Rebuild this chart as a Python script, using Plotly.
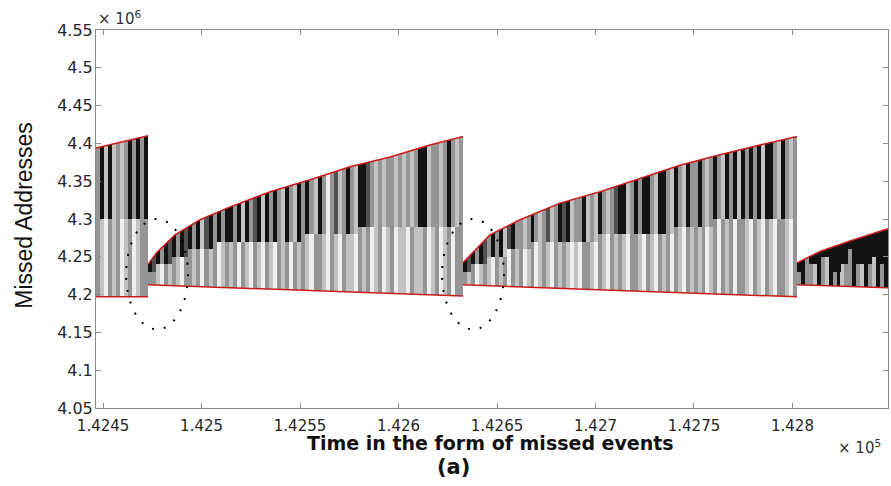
import numpy as np
import plotly.graph_objects as go

# ---- axis ticks (x in units of 1e5, y in units of 1e6) ----
x_ticks = [1.4245, 1.425, 1.4255, 1.426, 1.4265, 1.427, 1.4275, 1.428]
x_tick_labels = ["1.4245", "1.425", "1.4255", "1.426", "1.4265", "1.427", "1.4275", "1.428"]
y_ticks = [4.05, 4.1, 4.15, 4.2, 4.25, 4.3, 4.35, 4.4, 4.45, 4.5, 4.55]
y_tick_labels = ["4.05", "4.1", "4.15", "4.2", "4.25", "4.3", "4.35", "4.4", "4.45", "4.5", "4.55"]
x_range = [1.424464, 1.428485]
y_range = [4.05, 4.55]

# ---- the four address cycles: time span of each ----
seg_start = [1.424464, 1.424728, 1.426327, 1.428023]
seg_end = [1.424728, 1.426327, 1.428023, 1.428485]

# upper envelope (highest missed address) per cycle
upper_x = [
    [1.424464, 1.424728],
    [1.424728, 1.424774, 1.424865, 1.424992, 1.425145, 1.425348, 1.425551,
     1.425754, 1.425957, 1.426160, 1.426327],
    [1.426327, 1.426388, 1.426464, 1.426617, 1.426820, 1.427023, 1.427226,
     1.427429, 1.427632, 1.427835, 1.428023],
    [1.428023, 1.428140, 1.428292, 1.428485],
]
upper_y = [
    [4.394, 4.410],
    [4.240, 4.256, 4.279, 4.299, 4.316, 4.336, 4.352, 4.369, 4.382, 4.398, 4.409],
    [4.242, 4.259, 4.279, 4.299, 4.321, 4.336, 4.354, 4.371, 4.385, 4.398, 4.409],
    [4.242, 4.257, 4.271, 4.287],
]
# lower envelope (lowest missed address) per cycle
lower_x = [
    [1.424464, 1.424728],
    [1.424728, 1.426327],
    [1.426327, 1.428023],
    [1.428023, 1.428485],
]
lower_y = [
    [4.197, 4.197],
    [4.213, 4.198],
    [4.213, 4.197],
    [4.213, 4.209],
]

# stripe codes per cycle: upper shade, lower shade, split level digit
stripes = [
    "gg9 kl9 lw9 kg9 ll9 gg9 lw9 gl9 kg9 gw9 kl9 gg9 kg9",
    "kg2 dg2 kl3 gw3 kg3 dl3 kg4 gl4 kw4 dg4 kg5 gl5 kg5 lw5 dg5 kl5 gg5 kw6 gl6 kg6 "
    "kl6 gg6 kw6 lg6 kl6 gw6 dg6 kl6 lw6 kg6 gl6 kw6 gg6 ll6 kg6 gw6 lg6 kl6 "
    "gg7 kl7 gw7 lg7 kg7 gl7 ww7 gg7 dl7 lw7 gg7 kl7 gl7 lw7 kg8 kl8 dg8 gw8 ll8 gg8 lw8 gl8 "
    "gg8 lw8 gl8 ll8 gw8 lg8 gl8 kl8 kg8 lw8 gl8 gg8 lw8 gl8 kg8 gw8 lg8 gg8",
    "kg2 dl2 kg3 gw3 kl3 dg3 gl4 kw4 gg4 kl4 lg4 dw5 kg5 gl5 "
    "gg5 lw5 gl5 kg6 gw6 ll6 gg6 dl6 lw6 gg6 kl6 dg6 kl6 lw6 gl6 gw6 kg6 lg6 gl6 lw6 "
    "kg7 gl7 lw7 gg7 dl7 kg7 kl7 lw7 gg7 kg7 gl7 kw7 kg7 gl7 lw7 kg7 kl7 gg7 lw7 kg8 gl8 lw8 kg8 gl8 gg8 "
    "kl8 gg8 lw8 gl8 kg9 gw9 lg9 kl9 gg9 kw9 lg9 kg9 gl9 kw9 gg9 kl9 lw9 kg9 kl9 gw9 lg9 kg9 gl9 lw9 gg9",
    "kg2 kk2 gg3 kg3 kl3 kk3 kg4 kl4 kk4 kg2 kk2 kl3 kg3 kg5 kk3 kg3 kl3 kk3 kg3 kl4 kk4 kg3 kk3",
]
shade = {"k": "#121212", "d": "#505050", "g": "#959595", "l": "#c2c2c2", "w": "#efefef"}

# dotted ellipses highlighting the start of a new cycle
ellipse_x0 = [1.424617, 1.426221]
ellipse_x1 = [1.424931, 1.426535]
ellipse_y0 = [4.154, 4.154]
ellipse_y1 = [4.300, 4.300]

STRIPE_FLOOR = 4.18
STRIPE_CEIL = 4.46
MASK_OVERHANG = 6e-6  # masks reach a hair past each cycle's right edge

fig = go.Figure()

# build stripe bars
bx, bw, lo_h, hi_b, hi_h, lo_c, hi_c = [], [], [], [], [], [], []
for s, e, codes in zip(seg_start, seg_end, stripes):
    toks = codes.split()
    n = len(toks)
    w = (e - s) / n
    centers = s + w * (np.arange(n) + 0.5)
    for c, t in zip(centers, toks):
        split = 4.21 + int(t[2]) * 0.01
        bx.append(c)
        bw.append(w * 1.02)
        lo_h.append(split - STRIPE_FLOOR)
        hi_b.append(split)
        hi_h.append(STRIPE_CEIL - split)
        hi_c.append(shade[t[0]])
        lo_c.append(shade[t[1]])

fig.add_trace(go.Bar(x=bx, y=lo_h, base=[STRIPE_FLOOR] * len(bx), width=bw,
                     marker=dict(color=lo_c, line=dict(width=0)), hoverinfo="skip"))
fig.add_trace(go.Bar(x=bx, y=hi_h, base=hi_b, width=bw,
                     marker=dict(color=hi_c, line=dict(width=0)), hoverinfo="skip"))

# white masks outside each cycle's envelope
for s, e, ux, uy, lx, ly in zip(seg_start, seg_end, upper_x, upper_y, lower_x, lower_y):
    ee = e + MASK_OVERHANG
    fig.add_trace(go.Scatter(x=list(ux) + [ee, ee, s, s],
                             y=list(uy) + [uy[-1], STRIPE_CEIL + 0.01, STRIPE_CEIL + 0.01, uy[0]],
                             fill="toself", fillcolor="white", mode="lines",
                             line=dict(width=0, color="white"), hoverinfo="skip"))
    fig.add_trace(go.Scatter(x=list(lx) + [ee, ee, s, s],
                             y=list(ly) + [ly[-1], STRIPE_FLOOR - 0.01, STRIPE_FLOOR - 0.01, ly[0]],
                             fill="toself", fillcolor="white", mode="lines",
                             line=dict(width=0, color="white"), hoverinfo="skip"))

# red envelope lines
for ux, uy, lx, ly in zip(upper_x, upper_y, lower_x, lower_y):
    for xx, yy in ((ux, uy), (lx, ly)):
        fig.add_trace(go.Scatter(x=xx, y=yy, mode="lines",
                                 line=dict(color="#cc1a1a", width=1.5), hoverinfo="skip"))

shapes = []
for x0, x1, y0, y1 in zip(ellipse_x0, ellipse_x1, ellipse_y0, ellipse_y1):
    shapes.append(dict(type="circle", xref="x", yref="y", x0=x0, x1=x1, y0=y0, y1=y1,
                       line=dict(color="black", width=2, dash="2px,10px"), layer="above"))

axis_common = dict(showline=True, linecolor="#8a8a8a", linewidth=1, mirror="allticks",
                   ticks="inside", ticklen=5, tickcolor="#8a8a8a", showgrid=False,
                   zeroline=False)

fig.update_layout(
    width=891, height=486,
    margin=dict(l=96, r=3, t=30, b=78),
    paper_bgcolor="white", plot_bgcolor="white",
    showlegend=False, barmode="overlay", bargap=0,
    shapes=shapes,
    xaxis=dict(range=x_range, tickvals=x_ticks, ticktext=x_tick_labels,
               ticklabelstandoff=4,
               tickfont=dict(family="DejaVu Sans", size=15, color="#262626"), **axis_common),
    yaxis=dict(range=y_range, tickvals=y_ticks, ticktext=y_tick_labels,
               ticklabelstandoff=-1,
               tickfont=dict(family="DejaVu Sans", size=16, color="#262626"), **axis_common),
    annotations=[
        dict(text="Time in the form of missed events", xref="paper", yref="paper",
             x=0.4975, y=-0.093, xanchor="center", yanchor="middle", showarrow=False,
             font=dict(family="DejaVu Sans", size=19, color="#111111", weight="bold")),
        dict(text="Missed Addresses", xref="paper", yref="paper", textangle=-90,
             x=-0.091, y=0.511, xanchor="center", yanchor="middle", showarrow=False,
             font=dict(family="Liberation Sans", size=23, color="#111111")),
        dict(text="(a)", xref="paper", yref="paper",
             x=0.4508, y=-0.155, xanchor="center", yanchor="middle", showarrow=False,
             font=dict(family="DejaVu Sans", size=21, color="#111111", weight="bold")),
        dict(text="× 10<sup>6</sup>", xref="paper", yref="paper",
             x=0.0, y=1.032, xanchor="left", yanchor="middle", showarrow=False,
             font=dict(family="DejaVu Sans", size=15, color="#333333")),
        dict(text="× 10<sup>5</sup>", xref="paper", yref="paper",
             x=0.994, y=-0.103, xanchor="right", yanchor="middle", showarrow=False,
             font=dict(family="DejaVu Sans", size=15, color="#333333")),
    ],
)

fig.write_html("out.html")
